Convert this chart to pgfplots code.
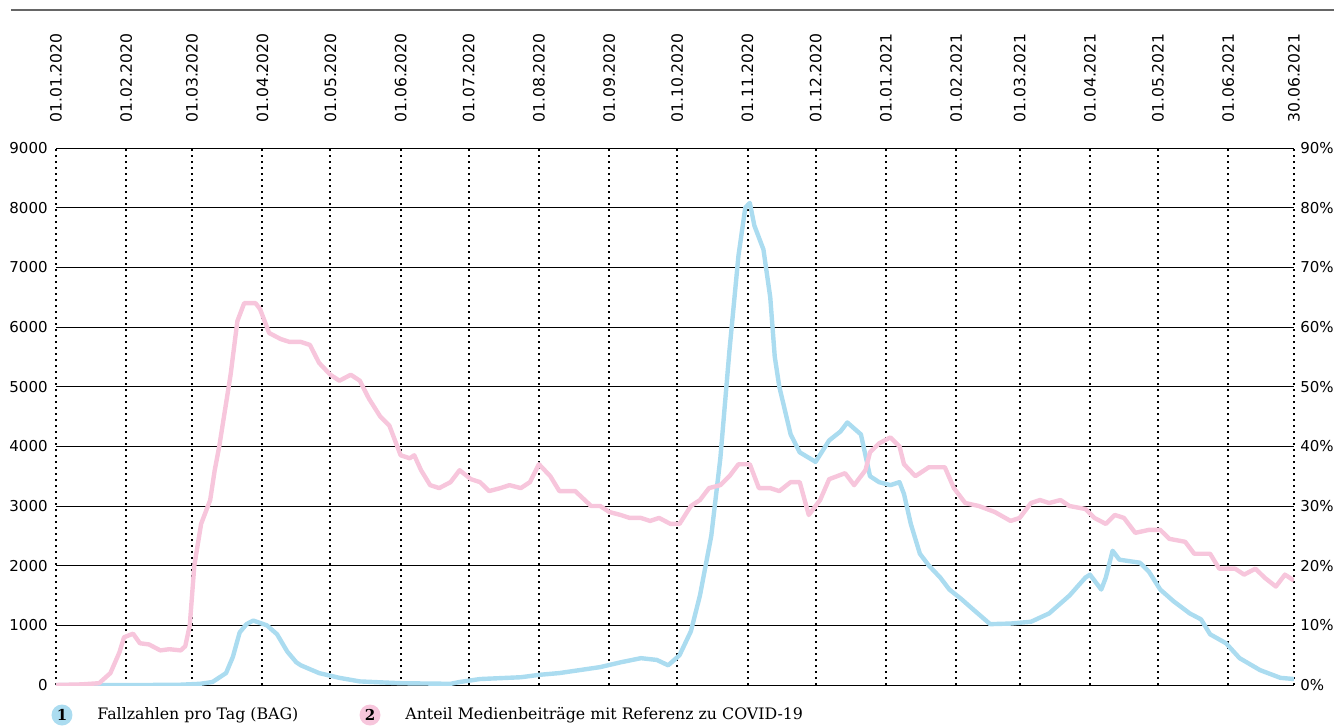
\documentclass[border=0pt]{standalone}
\usepackage{pgfplots}
\pgfplotsset{compat=1.18}
\usepackage{pgfplotstable}
\usepackage{fontspec}
\setmainfont{DejaVu Sans}
\newfontfamily\legfont{DejaVu Serif}
\usetikzlibrary{calc}
\definecolor{cblue}{HTML}{ABDCF0}
\definecolor{cpink}{HTML}{F7C6DC}

\pgfplotstableread{
day val
0 0
20 0
40 0
55 5
63.5 20
69 50
75 200
78 470
81 880
84 1020
87 1080
93 1000
97.5 850
102 560
106 380
108 330
116 200
125 120
134 60
152 30
174 20
178 50
187 100
205 130
213 170
222 200
231 250
240 300
249 380
258 450
265 420
270 330
275 500
280 900
284 1500
289 2500
293 3800
297 5600
301 7200
304 8000
306 8080
308 7700
310 7500
312 7300
315 6500
317 5500
319 5000
324 4200
328 3900
335 3740
341 4100
346 4250
349 4400
355 4200
359 3500
363 3400
368 3350
372 3400
374 3200
377 2700
381 2200
385 2000
390 1800
394 1600
399 1450
405 1250
412 1020
421 1030
430 1060
438 1200
447 1500
454 1800
456 1850
461 1600
463 1800
466 2250
469 2100
478 2050
482 1900
487 1600
493 1400
500 1200
505 1100
509 850
516 700
522 450
531 250
540 120
546 100
}\cases

\pgfplotstableread{
day val
0 0
11 0.1
19 0.3
24 2.0
28 5.5
30 8.0
34 8.6
37 7.0
41 6.8
46 5.8
50 6.0
55 5.8
57 6.5
59 10
61 20
64 27
66 29
68 31
70 36
72 40
77 52
80 61
83 64
88 64
90 63
94 59
99 58
103 57.5
108 57.5
112 57
116 54
121 52
125 51
130 52
134 51
138 48
143 45
147 43.5
152 38.5
156 38
158 38.5
161 36
165 33.5
169 33
174 34
178 36
183 34.5
187 34
191 32.5
196 33
200 33.5
205 33
209 34
213 37
218 35
222 32.5
229 32.5
236 30
240 30
244 29
249 28.5
253 28
258 28
262 27.5
266 28
271 27
275 27
280 30
284 31
288 33
293 33.5
297 35
301 37
306 37
310 33
315 33
319 32.5
324 34
328 34
332 28.5
337 31
341 34.5
348 35.5
352 33.5
357 36
359 39
363 40.5
368 41.5
372 40
374 37
379 35
385 36.5
392 36.5
396 33
401 30.5
407 30
414 29
421 27.5
425 28
430 30.5
434 31
438 30.5
443 31
447 30
454 29.5
458 28
463 27
467 28.5
471 28
476 25.5
482 26
487 26
491 24.5
498 24
502 22
509 22
513 19.5
520 19.5
524 18.5
529 19.5
533 18
538 16.5
542 18.5
546 17.5
}\media

\pgfplotsset{
  common/.style={
    scale only axis, width=619pt, height=268.5pt,
    at={(0,0)}, anchor=south west,
    xmin=0, xmax=546,
    major tick length=0pt,
    axis line style={draw=none},
    /pgf/number format/assume math mode=true,
    /pgf/number format/1000 sep={},
    scaled y ticks=false,
    tick label style={font=\fontsize{7.5}{9}\selectfont},
  }
}

\begin{document}
\begin{tikzpicture}
\begin{axis}[common, name=ax,
  ymin=0, ymax=9000,
  xtick={0,31,60,91,121,152,182,213,244,274,305,335,366,397,425,456,486,517,546},
  xticklabels={01.01.2020,01.02.2020,01.03.2020,01.04.2020,01.05.2020,01.06.2020,01.07.2020,01.08.2020,01.09.2020,01.10.2020,01.11.2020,01.12.2020,01.01.2021,01.02.2021,01.03.2021,01.04.2021,01.05.2021,01.06.2021,30.06.2021},
  xticklabel pos=right,
  xticklabel style={rotate=90, anchor=west, inner sep=0pt, font=\fontsize{7.8}{9}\selectfont},
  xticklabel shift=12.5pt,
  ytick={0,1000,...,9000},
  yticklabel style={anchor=east, inner sep=0pt, xshift=-4pt},
  grid=major,
  x grid style={black, line width=1pt, dash pattern=on 1pt off 2pt},
  y grid style={black, line width=0.5pt},
]
\addplot[cblue, line width=2.2pt, line join=round] table[x=day, y=val] {\cases};
\end{axis}
\begin{axis}[common,
  ymin=0, ymax=90,
  axis y line*=right,
  hide x axis,
  ytick={0,10,...,90},
  yticklabel={\pgfmathprintnumber{\tick}\%},
  yticklabel style={anchor=west, inner sep=0pt, xshift=3pt},
]
\addplot[cpink, line width=2.2pt, line join=round] table[x=day, y=val] {\media};
\end{axis}
\draw[black!60, line width=1pt] ($(ax.south west)+(-22.5pt,337.5pt)$) -- ($(ax.south east)+(20pt,337.5pt)$);
\node[circle, fill=cblue, minimum size=10.5pt, inner sep=0pt, font=\legfont\fontsize{7.5}{9}\selectfont\bfseries] at ($(ax.south west)+(3pt,-15pt)$) {1};
\node[anchor=west, inner sep=0pt, font=\legfont\fontsize{7.9}{9}\selectfont] at ($(ax.south west)+(20.5pt,-15pt)$) {Fallzahlen pro Tag (BAG)};
\node[circle, fill=cpink, minimum size=10.5pt, inner sep=0pt, font=\legfont\fontsize{7.5}{9}\selectfont\bfseries] at ($(ax.south west)+(157pt,-15pt)$) {2};
\node[anchor=west, inner sep=0pt, font=\legfont\fontsize{7.9}{9}\selectfont] at ($(ax.south west)+(174.5pt,-15pt)$) {Anteil Medienbeiträge mit Referenz zu COVID-19};
\pgfresetboundingbox
\path[use as bounding box] ($(ax.south west)+(-28pt,-20pt)$) rectangle ($(ax.south east)+(20pt,342.5pt)$);
\end{tikzpicture}
\end{document}
